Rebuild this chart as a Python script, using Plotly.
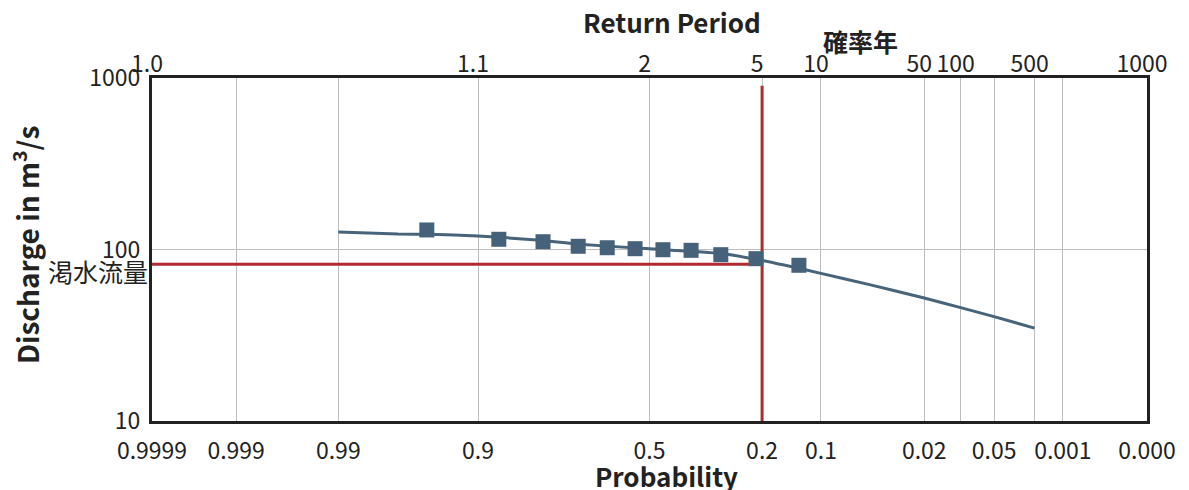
import math
from statistics import NormalDist
import plotly.graph_objects as go

# ---------------- data ----------------
# observed discharge (plotting positions, exceedance probability)
obs_prob = [0.952, 0.870, 0.787, 0.703, 0.624, 0.543, 0.460, 0.378, 0.297, 0.213, 0.132]
obs_q = [130.0, 114.7, 111.0, 104.4, 102.4, 101.1, 99.7, 98.9, 93.3, 88.4, 80.9]

# fitted distribution curve
fit_prob = [0.99, 0.97, 0.95, 0.9, 0.8, 0.7, 0.5, 0.3, 0.2, 0.1, 0.05, 0.02, 0.01, 0.005, 0.002]
fit_q = [126.3, 123.1, 122.7, 119.9, 113.6, 107.2, 101.0, 95.0, 86.2, 72.6, 62.4, 52.1, 45.8, 40.6, 34.8]

# design low flow (渇水流量) at probability 0.2
low_prob = 0.2
low_q = 82.0
axis_min_prob = 0.9999
q_bottom = 10
q_top = 900

# bottom axis (probability)
prob_ticks = [0.9999, 0.999, 0.99, 0.9, 0.5, 0.2, 0.1, 0.02, 0.005, 0.001, 0.0001]
prob_labels = ["0.9999", "0.999", "0.99", "0.9", "0.5", "0.2", "0.1", "0.02", "0.05", "0.001", "0.000"]
# top axis (return period)
rp_ticks = [0.9999, 0.9, 0.5, 0.2, 0.1, 0.02, 0.01, 0.002, 0.0001]
rp_labels = ["1.0", "1.1", "2", "5", "10", "50", "100", "500", "1000"]
# discharge axis
q_ticks = [10, 100, 1000]
q_labels = ["10", "100", "1000"]

# ---------------- scale (normal probability paper) ----------------
ND = NormalDist()


def zpos(p):
    return ND.inv_cdf(1 - p)


xmin, xmax = zpos(0.9999), zpos(0.0001)

FONT = "Noto Sans CJK JP"
TXT = "#222222"
LINE_C = "#47647b"
RED = "#b02a30"
GRID = "#bdbdbd"
TICK = 23

fig = go.Figure()

# red reference lines
fig.add_trace(go.Scatter(
    x=[zpos(axis_min_prob), zpos(low_prob)], y=[low_q, low_q],
    mode="lines", line=dict(color=RED, width=3), hoverinfo="skip", showlegend=False))
fig.add_trace(go.Scatter(
    x=[zpos(low_prob), zpos(low_prob)], y=[q_top, q_bottom],
    mode="lines", line=dict(color=RED, width=3), hoverinfo="skip", showlegend=False))

# fitted curve
fig.add_trace(go.Scatter(
    x=[zpos(p) for p in fit_prob], y=fit_q, mode="lines",
    line=dict(color=LINE_C, width=3, shape="spline", smoothing=0.5), showlegend=False))

# observed points
fig.add_trace(go.Scatter(
    x=[zpos(p) for p in obs_prob], y=obs_q, mode="markers",
    marker=dict(symbol="square", size=15, color="#46627a"), showlegend=False))

# invisible trace to anchor the top axis
fig.add_trace(go.Scatter(
    x=[zpos(p) for p in rp_ticks], y=[100] * len(rp_ticks), xaxis="x2",
    mode="markers", marker=dict(opacity=0), hoverinfo="skip", showlegend=False))

fig.update_layout(
    width=1181, height=482,
    margin=dict(l=144, r=42, t=70, b=69),
    paper_bgcolor="white", plot_bgcolor="white",
    font=dict(family=FONT, color=TXT, size=TICK),
    xaxis=dict(
        range=[xmin, xmax], tickmode="array",
        tickvals=[zpos(p) for p in prob_ticks], ticktext=prob_labels,
        showgrid=True, gridcolor=GRID, gridwidth=1,
        showline=True, linecolor="#222222", linewidth=3, mirror=True,
        ticks="", zeroline=False, ticklabelstandoff=7,
        tickfont=dict(size=TICK, family=FONT, color=TXT),
    ),
    xaxis2=dict(
        range=[xmin, xmax], overlaying="x", side="top", tickmode="array",
        tickvals=[zpos(p) for p in rp_ticks], ticktext=rp_labels,
        showgrid=True, gridcolor=GRID, gridwidth=1, showline=False,
        ticks="", zeroline=False, ticklabelshift=-5,
        tickfont=dict(size=TICK, family=FONT, color=TXT),
    ),
    yaxis=dict(
        type="log", range=[1, 3], tickmode="array",
        tickvals=q_ticks, ticktext=q_labels,
        showgrid=True, gridcolor=GRID, gridwidth=1,
        showline=True, linecolor="#222222", linewidth=3, mirror=True,
        ticks="", zeroline=False, ticklabelstandoff=4,
        tickfont=dict(size=TICK, family=FONT, color=TXT),
    ),
    annotations=[
        dict(text="<b>Return Period</b>", xref="paper", yref="paper", x=0.5226, y=1.0,
             yshift=57, xanchor="center", yanchor="middle", showarrow=False,
             font=dict(size=26, family=FONT, color=TXT)),
        dict(text="<b>確率年</b>", xref="paper", yref="paper", x=0.7116, y=1.0,
             yshift=37, xanchor="center", yanchor="middle", showarrow=False,
             font=dict(size=25, family=FONT, color=TXT)),
        dict(text="<b>Probability</b>", xref="paper", yref="paper", x=0.517, y=0.0,
             yshift=-54, xanchor="center", yanchor="middle", showarrow=False,
             font=dict(size=26, family=FONT, color=TXT)),
        dict(text="<b>Discharge in m<sup>3</sup>/s</b>", xref="paper", yref="paper",
             x=0.0, y=0.513, xshift=-127, textangle=-90, xanchor="center", yanchor="middle",
             showarrow=False, font=dict(size=28, family=FONT, color=TXT)),
        dict(text="渇水流量", xref="paper", yref="y", x=0.0, y=math.log10(low_q),
             xshift=-2, yshift=-7, xanchor="right", yanchor="middle", showarrow=False,
             font=dict(size=25, family=FONT, color=TXT)),
    ],
)

fig.write_html("out.html")
